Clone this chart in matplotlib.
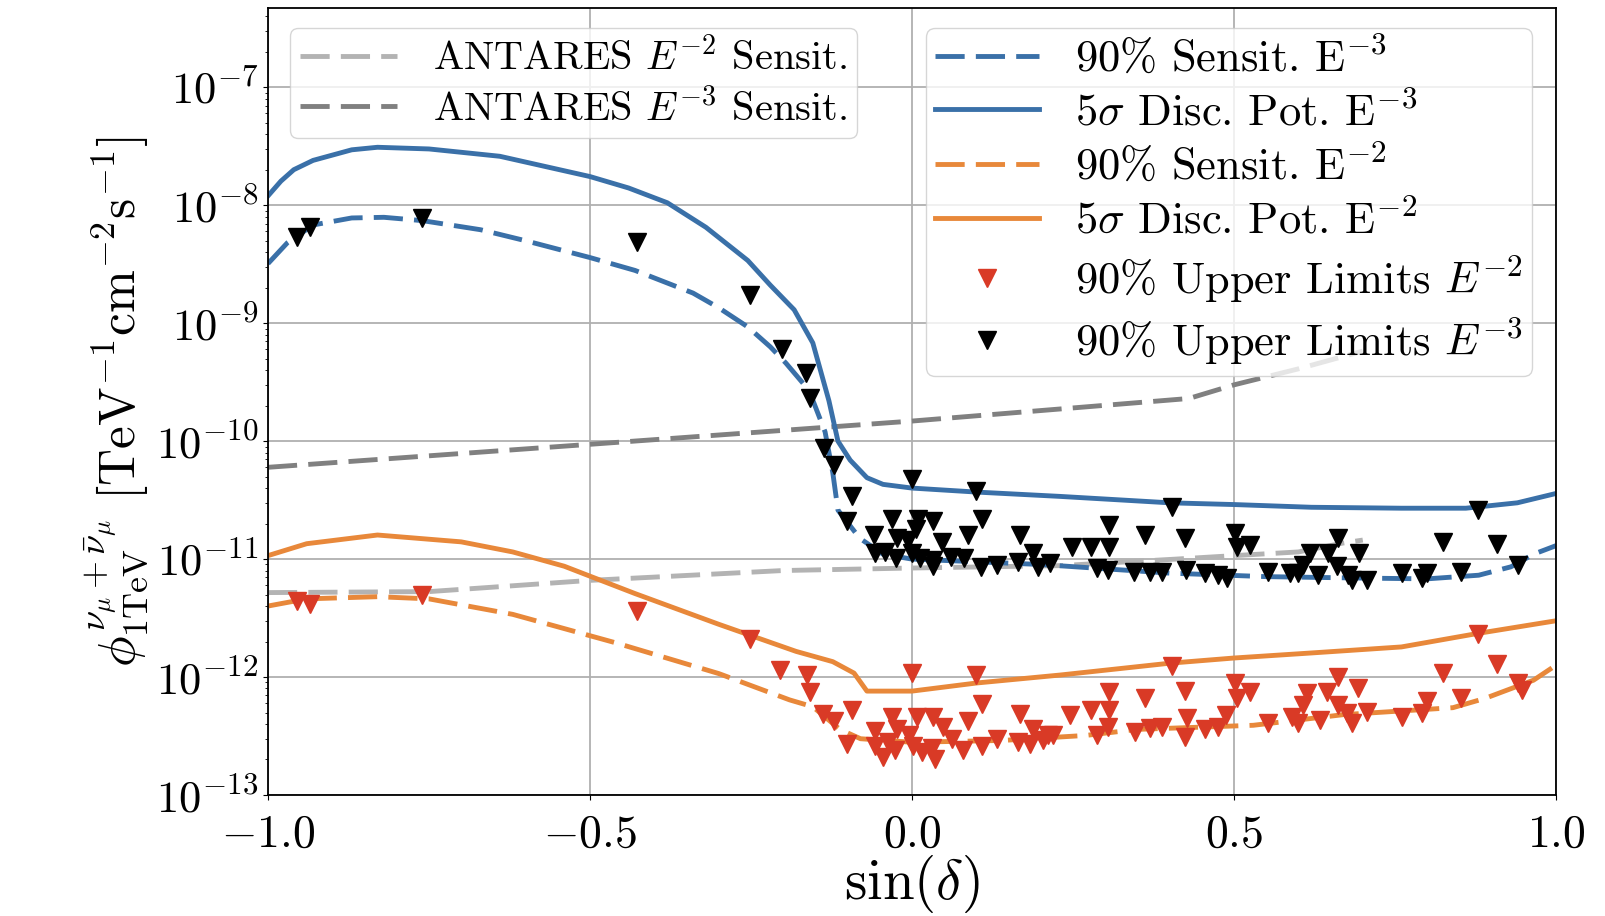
import numpy as np
import matplotlib
matplotlib.use("Agg")
import matplotlib.pyplot as plt

plt.rcParams['font.family'] = ['cmr10', 'DejaVu Serif']
plt.rcParams['mathtext.fontset'] = 'cm'
plt.rcParams['axes.formatter.use_mathtext'] = True

# 5 sigma discovery potential, E^-3
disc3_x = [-1.0, -0.98, -0.96, -0.93, -0.87, -0.83, -0.75, -0.64, -0.5, -0.44, -0.38, -0.32, -0.255, -0.22,
           -0.183, -0.154, -0.129, -0.115, -0.096, -0.070, -0.045, 0.0, 0.1, 0.23, 0.4, 0.5, 0.62, 0.76,
           0.86, 0.94, 1.0]
disc3_y = [1.2e-8, 1.6e-8, 2.0e-8, 2.4e-8, 2.95e-8, 3.1e-8, 3.0e-8, 2.6e-8, 1.75e-8, 1.4e-8, 1.05e-8, 6.5e-9,
           3.4e-9, 2.1e-9, 1.3e-9, 6.8e-10, 2.2e-10, 1.0e-10, 6.9e-11, 4.9e-11, 4.3e-11, 4.0e-11, 3.7e-11,
           3.4e-11, 3.0e-11, 2.9e-11, 2.75e-11, 2.7e-11, 2.7e-11, 3.0e-11, 3.6e-11]

# 90% sensitivity, E^-3
sens3_x = [-1.0, -0.97, -0.93, -0.87, -0.82, -0.76, -0.67, -0.6, -0.5, -0.43, -0.34, -0.3, -0.255, -0.22,
           -0.196, -0.16, -0.135, -0.123, -0.115, -0.081, -0.045, 0.0, 0.2, 0.4, 0.55, 0.7, 0.8, 0.88, 0.93,
           0.965, 1.0]
sens3_y = [3.2e-9, 4.8e-9, 6.8e-9, 7.8e-9, 7.9e-9, 7.4e-9, 6.2e-9, 5.0e-9, 3.6e-9, 2.8e-9, 1.8e-9, 1.35e-9,
           9.3e-10, 6.3e-10, 4.6e-10, 2.7e-10, 1.2e-10, 5.4e-11, 2.6e-11, 1.5e-11, 1.1e-11, 1.0e-11, 9.0e-12,
           7.6e-12, 7.1e-12, 6.9e-12, 6.8e-12, 7.3e-12, 8.6e-12, 1.1e-11, 1.3e-11]

# 5 sigma discovery potential, E^-2
disc2_x = [-1.0, -0.94, -0.83, -0.70, -0.62, -0.54, -0.43, -0.30, -0.18, -0.123, -0.09, -0.07, 0.0, 0.1,
           0.23, 0.4, 0.5, 0.62, 0.76, 0.88, 1.0]
disc2_y = [1.07e-11, 1.35e-11, 1.6e-11, 1.4e-11, 1.15e-11, 8.7e-12, 5.1e-12, 2.8e-12, 1.65e-12, 1.35e-12,
           1.08e-12, 7.6e-13, 7.6e-13, 8.9e-13, 1.04e-12, 1.31e-12, 1.45e-12, 1.6e-12, 1.8e-12, 2.35e-12,
           3.0e-12]

# 90% sensitivity, E^-2
sens2_x = [-1.0, -0.94, -0.83, -0.75, -0.62, -0.46, -0.30, -0.19, -0.154, -0.112, -0.08, 0.0, 0.14, 0.27,
           0.35, 0.53, 0.67, 0.84, 0.89, 0.965, 1.0]
sens2_y = [4.0e-12, 4.6e-12, 4.8e-12, 4.6e-12, 3.4e-12, 1.95e-12, 1.07e-12, 6.4e-13, 5.6e-13, 3.6e-13,
           3.0e-13, 2.8e-13, 2.9e-13, 3.2e-13, 3.6e-13, 3.9e-13, 4.8e-13, 5.5e-13, 6.6e-13, 9.4e-13, 1.26e-12]

# ANTARES sensitivities
ant2_x = [-1.0, -0.75, -0.5, -0.2, 0.0, 0.23, 0.41, 0.5, 0.6, 0.67, 0.7]
ant2_y = [5.2e-12, 5.3e-12, 6.6e-12, 8.0e-12, 8.4e-12, 8.8e-12, 1.0e-11, 1.07e-11, 1.15e-11, 1.37e-11, 1.45e-11]
ant3_x = [-1.0, -0.5, 0.0, 0.43, 0.5, 0.6, 0.7]
ant3_y = [6.0e-11, 9.4e-11, 1.48e-10, 2.3e-10, 3.0e-10, 4.1e-10, 5.8e-10]

# upper limits E^-3 (black)
ul3_x = [-0.955, -0.935, -0.761, -0.427, -0.252, -0.202, -0.165, -0.158, -0.137, -0.121, -0.093, -0.101,
         0.0, 0.099, -0.031, 0.009, 0.033, 0.109, 0.006, -0.059, -0.023, -0.006, 0.047, 0.087, 0.168,
         -0.057, -0.042, -0.025, 0.0, 0.012, 0.033, 0.033, 0.061, 0.081, 0.107, 0.132, 0.165, 0.188, 0.196,
         0.214, 0.248, 0.278, 0.306, 0.306, 0.287, 0.304, 0.362, 0.345, 0.370, 0.388, 0.404, 0.424, 0.425,
         0.455, 0.475, 0.489, 0.502, 0.505, 0.525, 0.553, 0.587, 0.599, 0.607, 0.618, 0.630, 0.646, 0.661,
         0.660, 0.677, 0.683, 0.694, 0.707, 0.761, 0.792, 0.800, 0.825, 0.852, 0.879, 0.908, 0.941]
ul3_y = [5.4e-9, 6.6e-9, 7.8e-9, 4.9e-9, 1.74e-9, 6.1e-10, 3.8e-10, 2.3e-10, 8.7e-11, 6.3e-11, 3.4e-11, 2.1e-11,
         4.8e-11, 3.8e-11, 2.2e-11, 2.2e-11, 2.1e-11, 2.2e-11, 1.8e-11, 1.6e-11, 1.5e-11, 1.45e-11, 1.4e-11,
         1.6e-11, 1.6e-11, 1.12e-11, 1.15e-11, 1.02e-11, 1.12e-11, 1.02e-11, 9.8e-12, 8.7e-12, 1.04e-11,
         1.02e-11, 8.5e-12, 8.9e-12, 9.4e-12, 1.12e-11, 8.5e-12, 9.2e-12, 1.26e-11, 1.26e-11, 1.94e-11,
         1.26e-11, 8.4e-12, 8.1e-12, 1.6e-11, 7.8e-12, 7.8e-12, 7.8e-12, 2.76e-11, 1.5e-11, 8.1e-12, 7.6e-12,
         7.3e-12, 6.9e-12, 1.66e-11, 1.26e-11, 1.31e-11, 7.8e-12, 7.6e-12, 7.6e-12, 8.9e-12, 1.12e-11,
         7.3e-12, 1.12e-11, 1.5e-11, 8.7e-12, 7.3e-12, 6.6e-12, 1.12e-11, 6.6e-12, 7.6e-12, 6.9e-12, 7.6e-12,
         1.4e-11, 7.8e-12, 2.6e-11, 1.34e-11, 8.9e-12]

# upper limits E^-2 (red)
ul2_x = [-0.955, -0.935, -0.761, -0.427, -0.252, -0.205, -0.163, -0.158, -0.138, -0.121, -0.093, -0.101,
         0.0, 0.099, 0.109, 0.168, -0.031, 0.008, 0.033, 0.048, 0.087, -0.057, -0.023, -0.005, 0.062, 0.132,
         0.188, 0.211, -0.057, -0.037, -0.026, -0.045, 0.002, 0.016, 0.031, 0.036, 0.079, 0.109, 0.165,
         0.183, 0.203, 0.219, 0.245, 0.278, 0.306, 0.306, 0.287, 0.304, 0.362, 0.346, 0.370, 0.388, 0.404,
         0.424, 0.427, 0.424, 0.455, 0.475, 0.488, 0.502, 0.505, 0.525, 0.553, 0.590, 0.599, 0.607, 0.613,
         0.634, 0.644, 0.661, 0.661, 0.675, 0.683, 0.693, 0.707, 0.761, 0.792, 0.800, 0.825, 0.852, 0.879,
         0.908, 0.941, 0.947]
ul2_y = [4.4e-12, 4.2e-12, 5.0e-12, 3.6e-12, 2.1e-12, 1.15e-12, 1.04e-12, 7.4e-13, 4.9e-13, 4.2e-13,
         5.3e-13, 2.7e-13, 1.08e-12, 1.04e-12, 5.9e-13, 4.9e-13, 4.6e-13, 4.6e-13, 4.6e-13, 3.8e-13, 4.2e-13,
         3.5e-13, 3.6e-13, 3.2e-13, 3.0e-13, 3.0e-13, 3.6e-13, 3.2e-13, 2.6e-13, 2.8e-13, 2.4e-13, 2.1e-13,
         2.6e-13, 2.3e-13, 2.5e-13, 2.0e-13, 2.4e-13, 2.6e-13, 2.8e-13, 2.7e-13, 2.9e-13, 3.2e-13, 4.8e-13,
         5.3e-13, 7.4e-13, 5.3e-13, 3.2e-13, 3.8e-13, 6.7e-13, 3.4e-13, 3.7e-13, 3.8e-13, 1.24e-12, 7.6e-13,
         4.5e-13, 3.1e-13, 3.6e-13, 3.8e-13, 4.8e-13, 8.9e-13, 6.7e-13, 7.4e-13, 4.1e-13, 4.6e-13, 4.1e-13,
         5.8e-13, 7.3e-13, 4.3e-13, 7.4e-13, 1.0e-12, 5.8e-13, 5.0e-13, 4.1e-13, 8.1e-13, 5.1e-13, 4.6e-13,
         5.0e-13, 6.3e-13, 1.08e-12, 6.7e-13, 2.3e-12, 1.29e-12, 8.9e-13, 7.8e-13]

blue = '#3a70a8'
orange = '#e8883a'
red = '#d93a26'

fig = plt.figure(figsize=(16.05, 9.16), dpi=100)
ax = fig.add_axes([268 / 1605, 1 - 795 / 916, 1288 / 1605, 787 / 916])

lw = 3.5
dash = (6, 2.3)
l_a2, = ax.plot(ant2_x, ant2_y, color='#b3b3b3', lw=lw, dashes=dash, label=r'ANTARES $E^{-2}$ Sensit.')
l_a3, = ax.plot(ant3_x, ant3_y, color='#808080', lw=lw, dashes=dash, label=r'ANTARES $E^{-3}$ Sensit.')
l_s3, = ax.plot(sens3_x, sens3_y, color=blue, lw=lw, dashes=dash, label=r'90% Sensit. E$^{-3}$')
l_d3, = ax.plot(disc3_x, disc3_y, color=blue, lw=lw, label=r'5$\sigma$ Disc. Pot. E$^{-3}$')
l_s2, = ax.plot(sens2_x, sens2_y, color=orange, lw=lw, dashes=dash, label=r'90% Sensit. E$^{-2}$')
l_d2, = ax.plot(disc2_x, disc2_y, color=orange, lw=lw, label=r'5$\sigma$ Disc. Pot. E$^{-2}$')
l_u2, = ax.plot(ul2_x, ul2_y, 'v', color=red, ms=12.5, ls='none', label=r'90% Upper Limits $E^{-2}$')
l_u3, = ax.plot(ul3_x, ul3_y, 'v', color='black', ms=12.5, ls='none', label=r'90% Upper Limits $E^{-3}$')

ax.set_yscale('log')
ax.set_xlim(-1, 1)
ax.set_ylim(1e-13, 4.7e-7)
ax.set_xticks([-1.0, -0.5, 0.0, 0.5, 1.0])
ax.grid(True, which='major', color='#b0b0b0', lw=1.3)
ax.tick_params(axis='y', labelsize=32)
ax.tick_params(axis='x', labelsize=33, pad=10)
for s in ax.spines.values():
    s.set_linewidth(1.3)

ax.set_xlabel(r'$\sin(\delta)$', fontsize=41, labelpad=-2)
ax.set_ylabel(r'$\phi^{\nu_\mu+\bar{\nu}_\mu}_{\mathrm{1TeV}}\ [\mathrm{TeV}^{-1}\mathrm{cm}^{-2}\mathrm{s}^{-1}]$',
              fontsize=37, labelpad=4)

leg1 = ax.legend(handles=[l_a2, l_a3], loc='upper left', bbox_to_anchor=(0.017, 0.975),
                 borderaxespad=0, fontsize=29, handlelength=2.4, handletextpad=0.9, labelspacing=0.25,
                 borderpad=0.25)
ax.add_artist(leg1)
ax.legend(handles=[l_s3, l_d3, l_s2, l_d2, l_u2, l_u3], loc='upper right', bbox_to_anchor=(0.981, 0.975),
          borderaxespad=0, fontsize=32, handlelength=2.35, handletextpad=0.8, labelspacing=0.24,
          borderpad=0.2)

fig.savefig('out.png', dpi=100)
